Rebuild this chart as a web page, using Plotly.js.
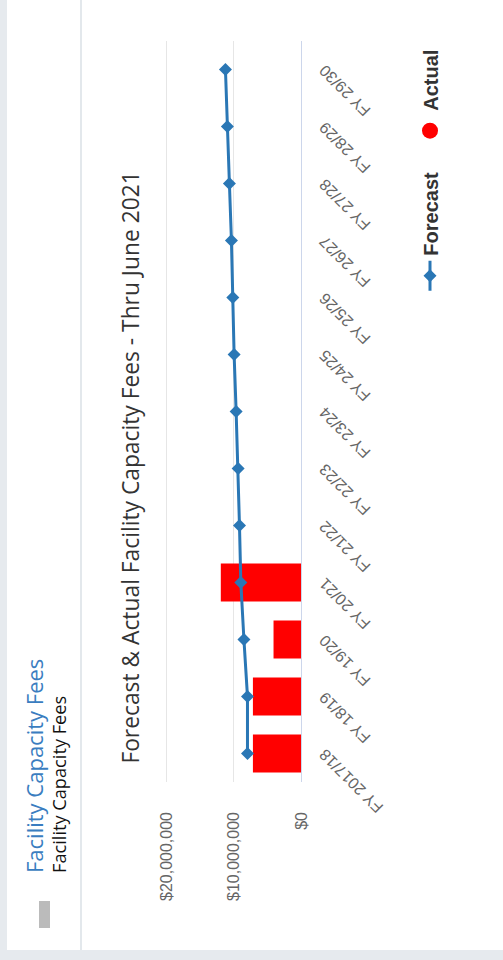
<!DOCTYPE html>
<html>
<head>
<meta charset="utf-8">
<script src="https://cdn.plot.ly/plotly-3.0.1.min.js"></script>
<style>
  html, body { margin: 0; padding: 0; width: 503px; height: 960px; overflow: hidden; background: #e6eaee; }
  /* the dashboard panel is laid out landscape and turned a quarter turn */
  #panel {
    position: absolute; left: 0; top: 0; width: 960px; height: 503px;
    transform-origin: 0 0; transform: translate(0px, 960px) rotate(-90deg);
    background: #e6eaee;
  }
  #card { position: absolute; left: 10px; top: 7px; width: 950px; height: 496px; background: #fff; }
  #sep { position: absolute; left: 10px; top: 80px; width: 950px; height: 2px; background: #e3e8ec; }
  #chip { position: absolute; left: 32px; top: 39px; width: 27px; height: 11px; background: #bbbbbb; }
  #head { position: absolute; left: 87px; top: 22px; font-family: "Open Sans", sans-serif; font-size: 22px; line-height: 24px; color: #3a7dc0; white-space: nowrap; }
  #sub { position: absolute; left: 87px; top: 49px; font-family: "Open Sans", sans-serif; font-size: 18.2px; line-height: 20px; color: #111; white-space: nowrap; }
  #chart { position: absolute; left: 10px; top: 82px; width: 950px; height: 421px; }
</style>
</head>
<body>
<div id="panel">
  <div id="card"></div>
  <div id="sep"></div>
  <div id="chip"></div>
  <div id="head">Facility Capacity Fees</div>
  <div id="sub">Facility Capacity Fees</div>
  <div id="chart"></div>
</div>
<script>
// fiscal years on the category axis
var fiscalYears = ['FY 2017/18', 'FY 18/19', 'FY 19/20', 'FY 20/21', 'FY 21/22', 'FY 22/23',
                   'FY 23/24', 'FY 24/25', 'FY 25/26', 'FY 26/27', 'FY 27/28', 'FY 28/29', 'FY 29/30'];

// forecast fees per year (dollars)
var forecastFees = [7970000, 7970000, 8500000, 8960000, 9160000, 9360000,
                    9660000, 9960000, 10150000, 10360000, 10660000, 10960000, 11250000];

// actual fees collected so far (dollars)
var actualYears = ['FY 2017/18', 'FY 18/19', 'FY 19/20', 'FY 20/21'];
var actualFees = [7160000, 7160000, 4090000, 11940000];

var valueTicks = [0, 10000000, 20000000];

var axisFont = { family: 'Liberation Sans, Arial, sans-serif', size: 16, color: '#666666' };

var traces = [
  {
    type: 'bar', name: 'Actual', x: actualYears, y: actualFees,
    marker: { color: '#ff0000' }, showlegend: false, hoverinfo: 'x+y'
  },
  {
    type: 'scatter', mode: 'lines+markers', name: 'Forecast', x: fiscalYears, y: forecastFees,
    line: { color: '#2a77b5', width: 3 },
    marker: { symbol: 'diamond', size: 10, color: '#2a77b5' }
  },
  {
    // legend entry for the actual columns, shown as a round swatch
    type: 'scatter', mode: 'markers', name: 'Actual', x: [null], y: [null],
    marker: { symbol: 'circle', size: 19, color: '#ff0000' }, hoverinfo: 'skip'
  }
];

var layout = {
  width: 950, height: 421,
  margin: { l: 168, r: 41, t: 82, b: 202 },
  paper_bgcolor: '#ffffff', plot_bgcolor: '#ffffff',
  title: {
    text: 'Forecast & Actual Facility Capacity Fees - Thru June 2021',
    font: { family: 'Open Sans, sans-serif', size: 22.8, color: '#333333' },
    xref: 'container', x: 0.508, xanchor: 'center',
    yref: 'container', y: 0.8836, yanchor: 'middle'
  },
  bargap: 0.33,
  xaxis: {
    type: 'category', categoryarray: fiscalYears, categoryorder: 'array',
    range: [-0.5, fiscalYears.length - 0.5], automargin: false,
    tickangle: -45, tickfont: axisFont,
    showline: true, linecolor: '#ccd6eb', linewidth: 1,
    showgrid: false, ticks: '', ticklabelstandoff: 7
  },
  yaxis: {
    range: [0, 20400000], tickvals: valueTicks, tickformat: '$,d', automargin: false,
    tickfont: axisFont, showgrid: true, gridcolor: '#e6e6e6', gridwidth: 1,
    zeroline: false, showline: false, ticks: '', ticklabelstandoff: 29
  },
  legend: {
    orientation: 'h', xref: 'container', yref: 'container',
    x: 0.994, xanchor: 'right', y: 0.1734, yanchor: 'middle',
    font: { family: 'Liberation Sans, Arial, sans-serif', size: 20, color: '#333333', weight: 'bold' },
    entrywidth: 100, traceorder: 'normal', itemsizing: 'trace'
  },
  showlegend: true
};

Plotly.newPlot('chart', traces, layout, { displayModeBar: false, staticPlot: true });
</script>
</body>
</html>
